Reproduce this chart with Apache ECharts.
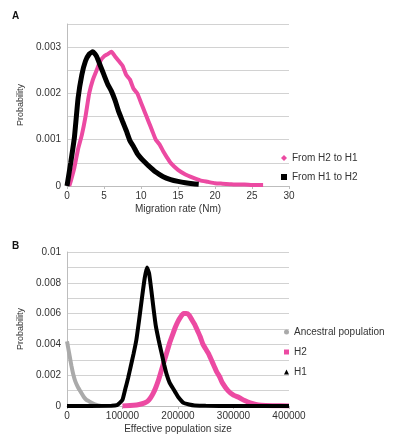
<!DOCTYPE html>
<html><head><meta charset="utf-8">
<script src="https://cdn.jsdelivr.net/npm/echarts@6/dist/echarts.min.js"></script>
<style>html,body{margin:0;padding:0;background:#fff}#c{width:409px;height:439px}</style>
</head><body><div id="c"></div>
<script>
// Panel A: migration rate (Nm) vs probability
const aH2toH1 = [[0.3,0],[0.5,0.0001],[1,0.0004],[1.5,0.0008],[2,0.0011],[2.5,0.0015],[3,0.002],[3.5,0.0023],[4,0.0025],[4.5,0.0027],[5,0.0028],[5.5,0.00285],[6,0.0029],[6.5,0.0028],[7,0.0027],[7.5,0.0026],[8,0.0024],[8.5,0.0023],[9,0.0021],[9.5,0.002],[10,0.0018],[10.5,0.0016],[11,0.0014],[11.5,0.0012],[12,0.001],[12.5,0.0009],[13,0.00075],[13.5,0.00062],[14,0.0005],[15,0.00035],[16,0.00025],[17,0.00018],[18,0.00012],[19,0.00009],[20,0.00006],[21,0.00005],[22,0.00004],[23,0.00003],[24,0.00003],[25,0.00002],[26.5,0.00002]];
const aH1toH2 = [[0,0],[0.5,0.0005],[1,0.00105],[1.5,0.0019],[2,0.0024],[2.5,0.0027],[3,0.00285],[3.5,0.0029],[4,0.0028],[4.5,0.0026],[5,0.0024],[5.5,0.0022],[6,0.00205],[6.5,0.00185],[7,0.0016],[7.5,0.0014],[8,0.0012],[8.5,0.00098],[9,0.00085],[9.5,0.0007],[10,0.0006],[10.5,0.00052],[11,0.00044],[12,0.0003],[13,0.0002],[14,0.00014],[15,0.0001],[16,0.00007],[17,0.00005],[17.8,0.00004]];
// Panel B: effective population size vs probability
const bAncestral = [[0,0.0042],[2000,0.0038],[5000,0.0032],[8000,0.0026],[11000,0.0021],[15000,0.0016],[20000,0.0012],[25000,0.0009],[30000,0.0006],[35000,0.0004],[40000,0.0003],[45000,0.0002],[50000,0.0001],[55000,0.00005],[60000,0.00002]];
const bH2 = [[100000,0],[120000,0.00005],[130000,0.0001],[140000,0.0002],[145000,0.0003],[150000,0.0005],[155000,0.0008],[160000,0.0012],[165000,0.0017],[170000,0.0023],[175000,0.0029],[180000,0.0035],[185000,0.0041],[190000,0.0046],[195000,0.0051],[200000,0.0055],[205000,0.0058],[210000,0.006],[215000,0.006],[220000,0.0059],[225000,0.0056],[230000,0.0053],[235000,0.0049],[240000,0.0045],[245000,0.004],[250000,0.0037],[255000,0.0034],[260000,0.003],[265000,0.0026],[270000,0.0022],[275000,0.0019],[280000,0.0015],[290000,0.001],[300000,0.0007],[310000,0.00055],[320000,0.00035],[330000,0.0002],[340000,0.0001],[350000,0.00005],[370000,0.00002],[400000,0]];
const bH1 = [[0,0],[80000,0.00001],[90000,0.00005],[95000,0.0002],[100000,0.0004],[105000,0.0011],[110000,0.0018],[115000,0.0026],[120000,0.0034],[125000,0.0043],[130000,0.0056],[135000,0.007],[140000,0.0083],[144000,0.009],[148000,0.0086],[152000,0.0075],[156000,0.0063],[160000,0.0052],[165000,0.0043],[170000,0.0035],[175000,0.0027],[180000,0.002],[185000,0.0015],[190000,0.0012],[195000,0.0009],[200000,0.0006],[210000,0.0002],[220000,0.0001],[230000,0.00004],[250000,0.00001],[300000,0],[400000,0]];
const xTicksA = [0,5,10,15,20,25,30];
const xTicksB = [0,100000,200000,300000,400000];

const PINK = '#ec4aa2', GRAY = '#aaaaaa', BLACK = '#000000';
const FONT = 'Liberation Sans';
const chart = echarts.init(document.getElementById('c'), null, {renderer:'canvas'});
function yFmt(step){
  return v => { const k = v/step; return Math.abs(k-Math.round(k))<1e-6 ? String(+v.toFixed(4)) : ''; };
}
const axisCommon = {
  axisLine:{show:true,lineStyle:{color:'#bdbdbd',width:1}},
  axisTick:{show:false},
  splitLine:{show:true,lineStyle:{color:'#d2d2d2',width:1}},
  axisLabel:{color:'#333',fontFamily:FONT,fontSize:10},
  nameTextStyle:{color:'#333',fontFamily:FONT,fontSize:10}
};
chart.setOption({
  animation:false,
  textStyle:{fontFamily:FONT},
  graphic:[
    {type:'text',left:12,top:11,style:{text:'A',font:'bold 10px '+FONT,fill:'#111'}},
    {type:'text',left:12,top:241,style:{text:'B',font:'bold 10px '+FONT,fill:'#111'}}
  ],
  grid:[
    {left:67,right:120,top:24,bottom:253},
    {left:67,right:120,top:252,bottom:33}
  ],
  xAxis:[
    Object.assign({},axisCommon,{type:'value',gridIndex:0,min:0,max:30,interval:5,
      splitLine:{show:false},axisTick:{show:true,length:3,lineStyle:{color:'#bdbdbd'}},
      name:'Migration rate (Nm)',nameLocation:'middle',nameGap:18,
      axisLabel:{color:'#333',fontFamily:FONT,fontSize:10,margin:5,formatter:v=>String(v)}}),
    Object.assign({},axisCommon,{type:'value',gridIndex:1,min:0,max:400000,interval:100000,
      splitLine:{show:false},axisTick:{show:true,length:3,lineStyle:{color:'#bdbdbd'}},
      name:'Effective population size',nameLocation:'middle',nameGap:18,
      axisLabel:{color:'#333',fontFamily:FONT,fontSize:10,margin:5,formatter:v=>String(v)}})
  ],
  yAxis:[
    Object.assign({},axisCommon,{type:'value',gridIndex:0,min:0,max:0.0035,interval:0.0005,
      name:'Probability',nameLocation:'middle',nameGap:33,nameRotate:90,
      nameTextStyle:{color:'#333',fontFamily:FONT,fontSize:9},
      axisLabel:{color:'#333',fontFamily:FONT,fontSize:10,margin:6,formatter:yFmt(0.001)}}),
    Object.assign({},axisCommon,{type:'value',gridIndex:1,min:0,max:0.01,interval:0.001,
      name:'Probability',nameLocation:'middle',nameGap:33,nameRotate:90,
      nameTextStyle:{color:'#333',fontFamily:FONT,fontSize:9},
      axisLabel:{color:'#333',fontFamily:FONT,fontSize:10,margin:6,formatter:yFmt(0.002)}})
  ],
  legend:[
    {orient:'vertical',left:276,top:148,itemWidth:6,itemHeight:6,itemGap:9,
     textStyle:{color:'#333',fontFamily:FONT,fontSize:10},
     data:[{name:'From H2 to H1',icon:'diamond'},{name:'From H1 to H2',icon:'rect'}]},
    {orient:'vertical',left:279,top:322,itemWidth:5,itemHeight:5,itemGap:10,
     textStyle:{color:'#333',fontFamily:FONT,fontSize:10},
     data:[{name:'Ancestral population',icon:'circle'},{name:'H2',icon:'rect'},{name:'H1',icon:'triangle'}]}
  ],
  series:[
    {name:'From H2 to H1',type:'line',xAxisIndex:0,yAxisIndex:0,data:aH2toH1,showSymbol:false,smooth:0.15,
     lineStyle:{color:PINK,width:4},itemStyle:{color:PINK}},
    {name:'From H1 to H2',type:'line',xAxisIndex:0,yAxisIndex:0,data:aH1toH2,showSymbol:false,smooth:0.15,
     lineStyle:{color:BLACK,width:5},itemStyle:{color:BLACK}},
    {name:'Ancestral population',type:'line',xAxisIndex:1,yAxisIndex:1,data:bAncestral,showSymbol:false,smooth:0.15,
     lineStyle:{color:GRAY,width:4},itemStyle:{color:GRAY}},
    {name:'H2',type:'line',xAxisIndex:1,yAxisIndex:1,data:bH2,showSymbol:false,smooth:0.15,
     lineStyle:{color:PINK,width:5},itemStyle:{color:PINK}},
    {name:'H1',type:'line',xAxisIndex:1,yAxisIndex:1,data:bH1,showSymbol:false,smooth:0.15,
     lineStyle:{color:BLACK,width:4},itemStyle:{color:BLACK}}
  ]
});
</script></body></html>
